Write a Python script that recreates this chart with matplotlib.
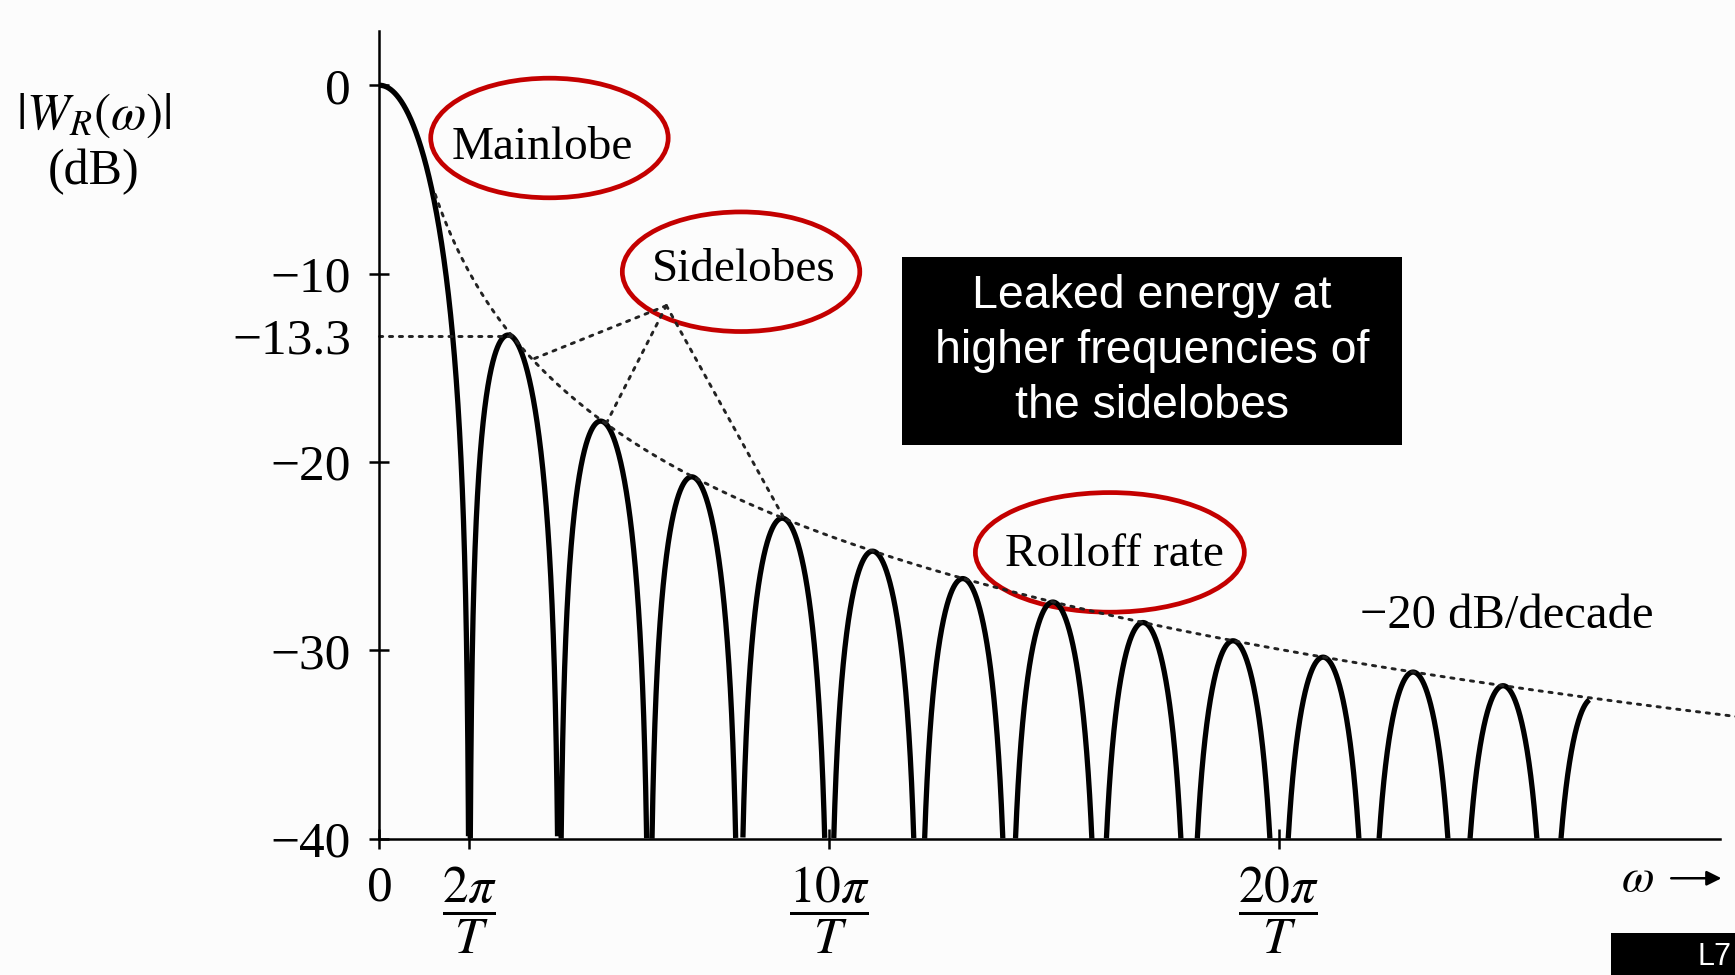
import numpy as np
import matplotlib
matplotlib.use('Agg')
import matplotlib.pyplot as plt
from matplotlib.patches import Ellipse, Rectangle

plt.rcParams['mathtext.fontset'] = 'stix'
plt.rcParams['font.family'] = ['Liberation Serif', 'DejaVu Serif']

# frequency axis in units of 2*pi/T, magnitude in dB
x_ticks = [0, 1, 5, 10]
x_tick_labels = ['0', r'$\dfrac{2\pi}{T}$', r'$\dfrac{10\pi}{T}$', r'$\dfrac{20\pi}{T}$']
y_ticks = [0, -10, -13.3, -20, -30, -40]
y_tick_labels = ['0', '\u221210', '\u221213.3', '\u221220', '\u221230', '\u221240']

first_sidelobe_db = -13.3
first_sidelobe_u = 1.48
curve_end_u = 13.45          # last (partial) lobe stops here
envelope_u = (0.62, 15.1)    # -20 dB/decade dotted line
floor_db = -40

# dotted pointers from the "Sidelobes" label to the lobes
pointer_apex = (3.19, -11.7)
pointer_targets_u = [1.70, 2.52, 4.50]

# rectangular window magnitude |W_R| = T |sinc(wT/2)|, normalised, in dB
u = np.linspace(0, curve_end_u, 40000)
mag_db = 20 * np.log10(np.abs(np.sinc(u)) + 1e-12)
mag_db = np.where(mag_db < floor_db, np.nan, mag_db)

ue = np.linspace(envelope_u[0], envelope_u[1], 400)
env_db = 20 * np.log10(1 / (np.pi * ue))

fig = plt.figure(figsize=(17.35, 9.75), dpi=100, facecolor='#fcfcfc')
ax = fig.add_axes([0.2187, 0.1398, 0.7813, 0.8284])
ax.set_facecolor('none')

ax.plot(u, mag_db, color='black', lw=3.8, clip_on=False, solid_joinstyle='round',
        solid_capstyle='butt')

dots = dict(color='#222222', lw=2.1, linestyle=(0, (1.1, 2.3)), dash_capstyle='round', clip_on=False)
ax.plot(ue, env_db, **dots)
ax.plot([0, first_sidelobe_u], [first_sidelobe_db, first_sidelobe_db], **dots)
for tu in pointer_targets_u:
    ax.plot([pointer_apex[0], tu], [pointer_apex[1], 20 * np.log10(1 / (np.pi * tu))], **dots)

ax.set_xlim(0, 15.07)
ax.set_ylim(floor_db, 2.88)

for s in ['top', 'right']:
    ax.spines[s].set_visible(False)
ax.spines['left'].set_linewidth(1.8)
ax.spines['bottom'].set_linewidth(1.8)
ax.spines['bottom'].set_bounds(0, 14.9)

ax.set_yticks(y_ticks)
ax.set_yticklabels(y_tick_labels)
ax.set_xticks(x_ticks)
ax.set_xticklabels(x_tick_labels)
ax.tick_params(axis='y', direction='inout', length=15, width=1.8, pad=13, labelsize=37)
ax.tick_params(axis='x', direction='inout', length=14, width=1.8, pad=12, labelsize=37)
ax.yaxis.get_major_ticks()[2].tick1line.set_visible(False)
for lbl in ax.get_xticklabels():
    lbl.set_verticalalignment('top')

# y label
fig.text(0.054, 0.881, r'$|W_R(\omega)|$', fontsize=37, ha='center', va='center')
fig.text(0.054, 0.824, '(dB)', fontsize=36, ha='center', va='center')

# w arrow
ax.text(13.99, -42.2, r'$\omega$', fontsize=34, ha='center', va='center', clip_on=False)
ax.annotate('', xy=(14.95, -42.1), xytext=(14.33, -42.1),
            arrowprops=dict(arrowstyle='-|>', color='black', lw=1.8, mutation_scale=22),
            annotation_clip=False)

# labels with red rings
red = '#c40000'
notes = [('Mainlobe', 1.81, -3.3, 1.89, -2.8, 2.64),
         ('Sidelobes', 4.05, -9.8, 4.02, -9.9, 2.64),
         ('Rolloff rate', 8.17, -24.9, 8.12, -24.8, 2.99)]
for txt, tx, ty, ex, ey, ew in notes:
    ax.text(tx, ty, txt, fontsize=34, ha='center', va='center')
    ax.add_patch(Ellipse((ex, ey), ew, 6.35, fill=False, edgecolor=red, lw=3.4, clip_on=False))

ax.text(12.53, -28.2, '\u221220 dB/decade', fontsize=35, ha='center', va='center')

# black call-out box
fig.add_artist(Rectangle((0.5199, 0.5436), 0.2882, 0.1928, transform=fig.transFigure,
                         facecolor='black', edgecolor='none'))
fig.text(0.6640, 0.6400, 'Leaked energy at\nhigher frequencies of\nthe sidelobes',
         family=['Liberation Sans', 'DejaVu Sans'], fontsize=33.5, color='white',
         ha='center', va='center', linespacing=1.32)

# slide number box at bottom right
fig.add_artist(Rectangle((0.9286, 0.0), 0.08, 0.0431, transform=fig.transFigure,
                         facecolor='black', edgecolor='none'))
fig.text(0.998, 0.003, 'L7', family=['Liberation Sans', 'DejaVu Sans'], fontsize=22,
         color='white', ha='right', va='bottom')

fig.savefig('out.png', dpi=100, facecolor=fig.get_facecolor())
